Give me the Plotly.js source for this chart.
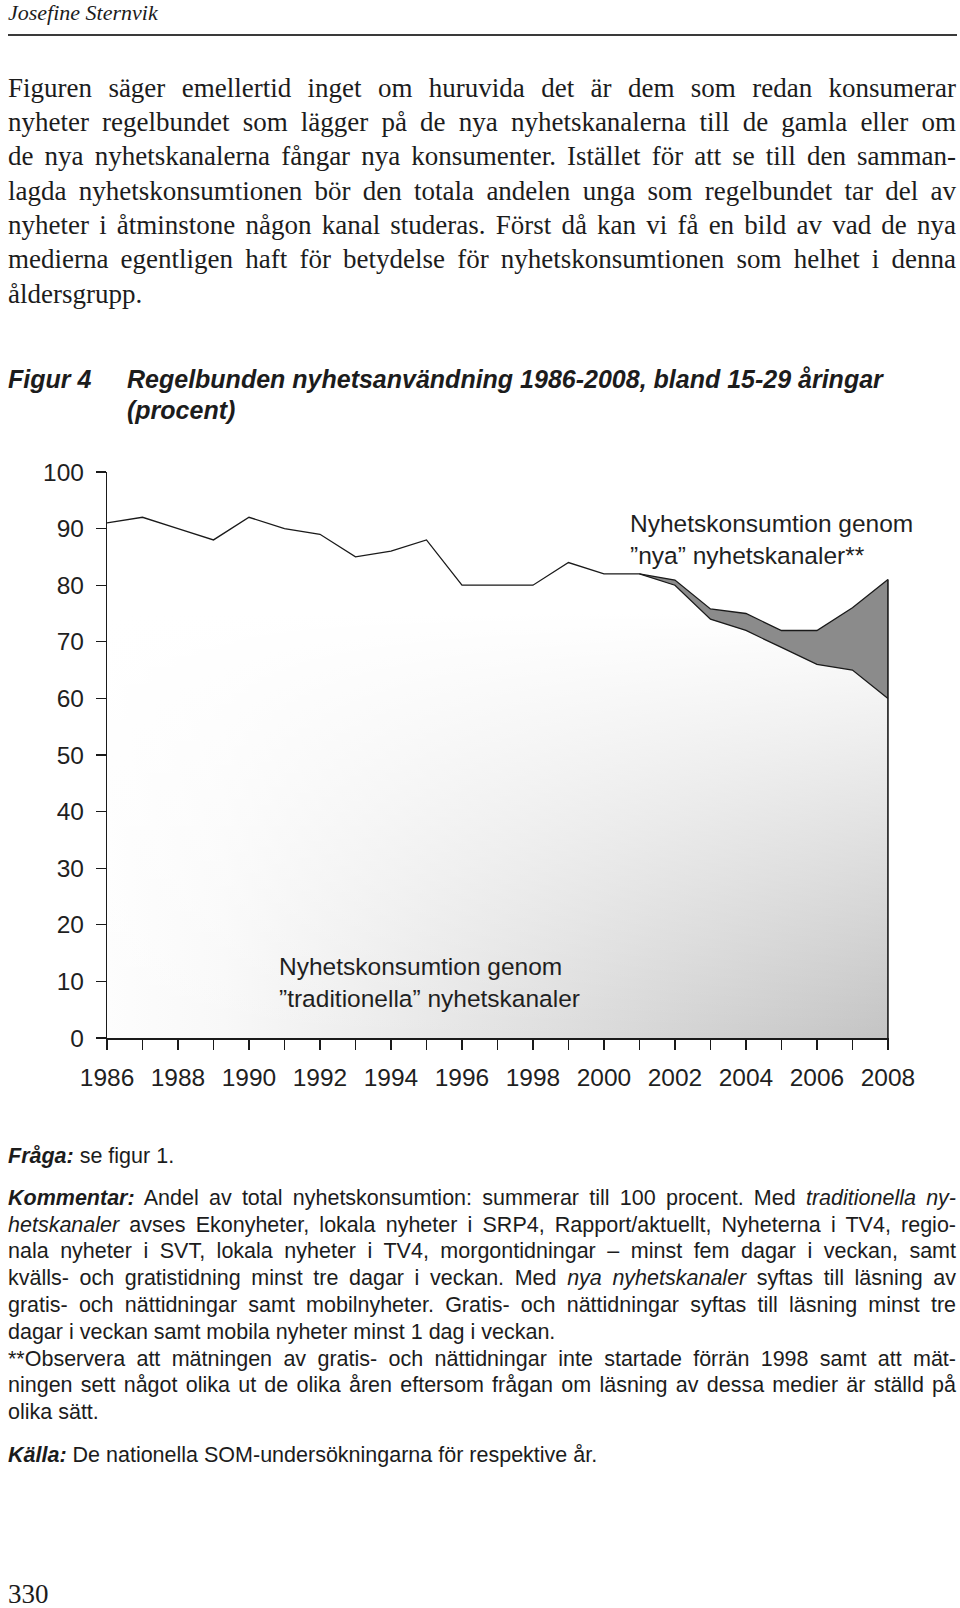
<!DOCTYPE html>
<html><head><meta charset="utf-8">
<script src="https://cdn.plot.ly/plotly-3.0.1.min.js"></script>
<style>
html,body{margin:0;padding:0;background:#fff;}
#page{position:relative;width:960px;height:1608px;overflow:hidden;background:#fff;}
#chart{position:absolute;left:0;top:0;width:960px;height:1608px;z-index:1;}
.t{position:absolute;white-space:nowrap;color:#1c1c1c;z-index:2;line-height:1;}
.serif{font-family:"Liberation Serif","Times New Roman",serif;}
.sans{font-family:"Liberation Sans",Arial,sans-serif;}
.body{font-size:27px;left:8px;}
.cap{font-size:21.5px;left:8px;}
.bi{font-weight:bold;font-style:italic;}
#rule{position:absolute;left:8px;top:34px;width:949px;height:2px;background:#3a3a3a;z-index:2;}
</style>
</head>
<body>
<div id="page">
<div id="chart"></div>

<div class="t serif" style="left:8px;top:2px;font-size:22px;font-style:italic;">Josefine Sternvik</div>
<div id="rule"></div>

<div class="t serif body jl" data-w="948" style="top:74.7px;">Figuren säger emellertid inget om huruvida det är dem som redan konsumerar</div>
<div class="t serif body jl" data-w="948" style="top:109px;">nyheter regelbundet som lägger på de nya nyhetskanalerna till de gamla eller om</div>
<div class="t serif body jl" data-w="948" style="top:143.3px;">de nya nyhetskanalerna fångar nya konsumenter. Istället för att se till den samman-</div>
<div class="t serif body jl" data-w="948" style="top:177.6px;">lagda nyhetskonsumtionen bör den totala andelen unga som regelbundet tar del av</div>
<div class="t serif body jl" data-w="948" style="top:211.9px;">nyheter i åtminstone någon kanal studeras. Först då kan vi få en bild av vad de nya</div>
<div class="t serif body jl" data-w="948" style="top:246.2px;">medierna egentligen haft för betydelse för nyhetskonsumtionen som helhet i denna</div>
<div class="t serif body" style="top:280.5px;">åldersgrupp.</div>

<div class="t sans bi" style="left:8px;top:367px;font-size:25px;">Figur 4</div>
<div class="t sans bi" style="left:127px;top:367px;font-size:25px;">Regelbunden nyhetsanvändning 1986-2008, bland 15-29 åringar</div>
<div class="t sans bi" style="left:127px;top:397.5px;font-size:25px;">(procent)</div>

<div class="t sans cap" style="top:1145.8px;"><span class="bi">Fråga:</span> se figur 1.</div>
<div class="t sans cap jl" data-w="948" style="top:1187.8px;"><span class="bi">Kommentar:</span> Andel av total nyhetskonsumtion: summerar till 100 procent. Med <i>traditionella ny-</i></div>
<div class="t sans cap jl" data-w="948" style="top:1214.6px;"><i>hetskanaler</i> avses Ekonyheter, lokala nyheter i SRP4, Rapport/aktuellt, Nyheterna i TV4, regio-</div>
<div class="t sans cap jl" data-w="948" style="top:1241.4px;">nala nyheter i SVT, lokala nyheter i TV4, morgontidningar – minst fem dagar i veckan, samt</div>
<div class="t sans cap jl" data-w="948" style="top:1268.2px;">kvälls- och gratistidning minst tre dagar i veckan. Med <i>nya nyhetskanaler</i> syftas till läsning av</div>
<div class="t sans cap jl" data-w="948" style="top:1295px;">gratis- och nättidningar samt mobilnyheter. Gratis- och nättidningar syftas till läsning minst tre</div>
<div class="t sans cap" style="top:1321.8px;">dagar i veckan samt mobila nyheter minst 1 dag i veckan.</div>
<div class="t sans cap jl" data-w="948" style="top:1348.6px;">**Observera att mätningen av gratis- och nättidningar inte startade förrän 1998 samt att mät-</div>
<div class="t sans cap jl" data-w="948" style="top:1375.4px;">ningen sett något olika ut de olika åren eftersom frågan om läsning av dessa medier är ställd på</div>
<div class="t sans cap" style="top:1402.2px;">olika sätt.</div>
<div class="t sans cap" style="top:1444.8px;"><span class="bi">Källa:</span> De nationella SOM-undersökningarna för respektive år.</div>

<div class="t serif" style="left:8px;top:1584px;font-size:27px;line-height:20px;">330</div>
</div>

<script>
// ---- data ----
const years = [1986,1987,1988,1989,1990,1991,1992,1993,1994,1995,1996,1997,1998,1999,2000,2001,2002,2003,2004,2005,2006,2007,2008];
const traditionella = [91,92,90,88,92,90,89,85,86,88,80,80,80,84,82,82,80,74,72,69,66,65,60];
const nya = [null,null,null,null,null,null,null,null,null,null,null,null,null,null,null,0,0.9,1.8,3,3,6,11,21];
const xTickText = ['1986','','1988','','1990','','1992','','1994','','1996','','1998','','2000','','2002','','2004','','2006','','2008'];
const yTicks = [0,10,20,30,40,50,60,70,80,90,100];
const labelNya = 'Nyhetskonsumtion genom<br>”nya” nyhetskanaler**';
const labelTrad = 'Nyhetskonsumtion genom<br>”traditionella” nyhetskanaler';

// ---- derived ----
const total = years.map((y,i)=> traditionella[i] + (nya[i] === null ? 0 : nya[i]));
const idx = years.map((_,i)=>i).filter(i=> nya[i] !== null);
const nyYears = idx.map(i=>years[i]);
const nyBase = idx.map(i=>traditionella[i]);
const nyTop = idx.map(i=>total[i]);
const lastYear = years[years.length-1];
const lastTotal = total[total.length-1];

const ink = '#1a1a1a';
const traces = [
  {x:years, y:traditionella, type:'scatter', mode:'lines', fill:'tozeroy', line:{width:0},
   fillgradient:{type:'horizontal', start:years[0], stop:lastYear, colorscale:[[0,'#fdfdfd'],[0.15,'#f8f8f8'],[1,'#c4c4c4']]}, hoverinfo:'skip'},
  {x:years, y:traditionella, type:'scatter', mode:'lines', fill:'tozeroy', line:{width:0},
   fillgradient:{type:'vertical', start:0, stop:75, colorscale:[[0,'rgba(255,255,255,0)'],[1,'rgba(255,255,255,1)']]}, hoverinfo:'skip'},
  {x:nyYears, y:nyBase, type:'scatter', mode:'lines', line:{width:0}, hoverinfo:'skip'},
  {x:nyYears, y:nyTop, type:'scatter', mode:'lines', fill:'tonexty', fillcolor:'#8b8b8b', line:{width:0}, hoverinfo:'skip'},
  {x:years, y:total, type:'scatter', mode:'lines', line:{color:ink, width:1.3}, hoverinfo:'skip'},
  {x:nyYears, y:nyBase, type:'scatter', mode:'lines', line:{color:ink, width:1.3}, hoverinfo:'skip'},
  {x:[lastYear,lastYear], y:[0,lastTotal], type:'scatter', mode:'lines', line:{color:ink, width:1.6}, hoverinfo:'skip'}
];

const layout = {
  width:960, height:1608,
  margin:{l:107, r:71, t:472, b:570},
  paper_bgcolor:'rgba(0,0,0,0)', plot_bgcolor:'rgba(0,0,0,0)',
  showlegend:false,
  font:{family:'"Liberation Sans", Arial, sans-serif', size:24.5, color:'#1f1f1f'},
  xaxis:{range:[1986,2008.03], tickmode:'array', tickvals:years, ticktext:xTickText,
    ticks:'outside', ticklen:10, tickwidth:1.2, tickcolor:ink, ticklabelstandoff:7,
    showline:true, linecolor:ink, linewidth:2, showgrid:false, zeroline:false, fixedrange:true,
    tickfont:{size:24.5}},
  yaxis:{range:[0,100], tickmode:'array', tickvals:yTicks,
    ticks:'outside', ticklen:10, tickwidth:1.2, tickcolor:ink, ticklabelstandoff:7,
    showline:true, linecolor:ink, linewidth:1.2, showgrid:false, zeroline:false, fixedrange:true,
    tickfont:{size:24.5}},
  annotations:[
    {xref:'x', yref:'y', x:2000.68, y:88.1, xanchor:'left', yanchor:'middle', align:'left', showarrow:false,
     text:labelNya, font:{size:24.5, color:'#1f1f1f'}},
    {xref:'x', yref:'y', x:1990.8, y:9.85, xanchor:'left', yanchor:'middle', align:'left', showarrow:false,
     text:labelTrad, font:{size:24.5, color:'#1f1f1f'}}
  ]
};

Plotly.newPlot('chart', traces, layout, {staticPlot:true, displayModeBar:false});

// justify text lines to target width
function justify(){
  document.querySelectorAll('.jl').forEach(el=>{
    const target = parseFloat(el.dataset.w);
    el.style.wordSpacing = '0px';
    const w = el.getBoundingClientRect().width;
    const spaces = (el.textContent.match(/ /g)||[]).length;
    if(spaces) el.style.wordSpacing = ((target - w)/spaces) + 'px';
  });
}
justify();
if(document.fonts && document.fonts.ready) document.fonts.ready.then(justify);
</script>
</body></html>
